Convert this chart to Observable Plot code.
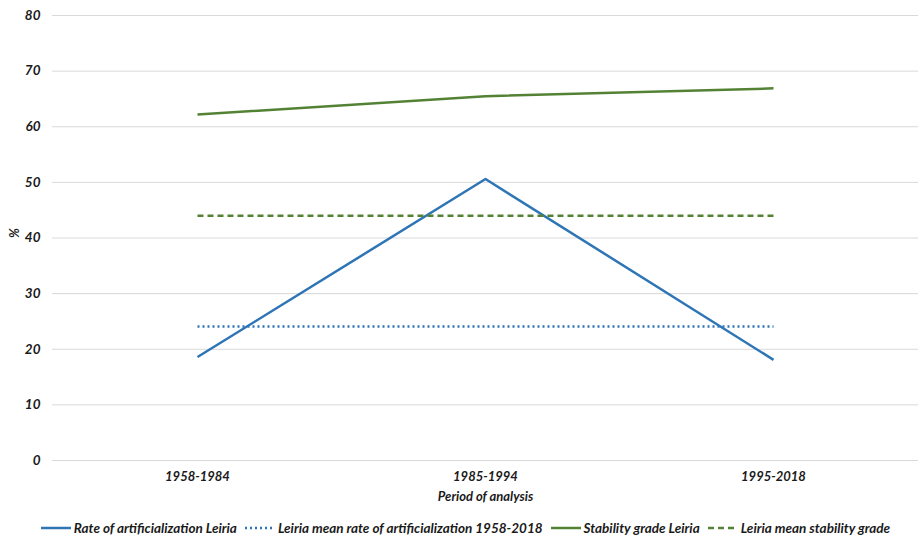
<!DOCTYPE html>
<html><head><meta charset="utf-8">
<script src="https://cdn.jsdelivr.net/npm/d3@7"></script>
<script src="https://cdn.jsdelivr.net/npm/@observablehq/plot@0.6"></script>
<style>
body{margin:0;background:#fff;font-family:Lato,"Open Sans",sans-serif;}
#legend{display:flex;justify-content:center;align-items:center;gap:8px;font-size:13.5px;font-weight:bold;font-style:italic;color:#1a1a1a;margin-top:8px;padding-left:12px;}
#legend span{display:flex;align-items:center;gap:3px;}
</style></head><body>
<div id="chart"></div>
<div id="legend"></div>
<script>
const periods = ["1958-1984","1985-1994","1995-2018"];
const rateArtificialization = [18.6, 50.6, 18.1];
const meanRateArtificialization = [24.1, 24.1, 24.1];
const stabilityGrade = [62.2, 65.5, 66.9];
const meanStabilityGrade = [44.0, 44.0, 44.0];
const seriesNames = ["Rate of artificialization Leiria","Leiria mean rate of artificialization 1958-2018","Stability grade Leiria","Leiria mean stability grade"];
const yTicks = [0,10,20,30,40,50,60,70,80];

const colors = ["#2E75B6","#2E75B6","#548235","#548235"];
const dashes = [null,"2,3",null,"6,4"];
const allSeries = [rateArtificialization, meanRateArtificialization, stabilityGrade, meanStabilityGrade];
const data = [];
allSeries.forEach((vals,i)=>vals.forEach((v,j)=>data.push({series:seriesNames[i], period:periods[j], value:v, idx:i})));

const lineMarks = seriesNames.map((name,i)=>Plot.line(data.filter(d=>d.idx===i),{
  x:"period", y:"value", stroke:colors[i], strokeWidth:2.5,
  strokeDasharray: dashes[i] || undefined, strokeLinecap:"butt"
}));

const chart = Plot.plot({
  width:919, height:512,
  marginLeft:52, marginRight:1, marginTop:15, marginBottom:52,
  style:{fontFamily:"Lato, 'Open Sans', sans-serif", fontSize:"13px", fontWeight:"bold", fontStyle:"italic", color:"#1a1a1a"},
  x:{type:"point", domain:periods, padding:0.5, label:null},
  y:{domain:[0,80], label:null},
  marks:[
    Plot.gridY(yTicks,{stroke:"#d9d9d9", strokeOpacity:1, strokeWidth:1}),
    Plot.axisY(yTicks,{tickSize:0, tickPadding:12, fontSize:13.5, label:null}),
    Plot.axisX({tickSize:0, tickPadding:11, fontSize:13, label:null}),
    Plot.text(["Period of analysis"],{frameAnchor:"bottom", dy:40, fontSize:13}),
    Plot.text(["%"],{frameAnchor:"left", dx:-38, rotate:-90, fontSize:13}),
    ...lineMarks
  ]
});
document.getElementById("chart").appendChild(chart);

const legend = document.getElementById("legend");
seriesNames.forEach((name,i)=>{
  const s = document.createElement("span");
  const dash = dashes[i] ? `stroke-dasharray="${dashes[i]}"` : "";
  s.innerHTML = `<svg width="30" height="6"><line x1="0" y1="3" x2="30" y2="3" stroke="${colors[i]}" stroke-width="2.5" ${dash}/></svg>${name}`;
  legend.appendChild(s);
});
</script>
</body></html>
